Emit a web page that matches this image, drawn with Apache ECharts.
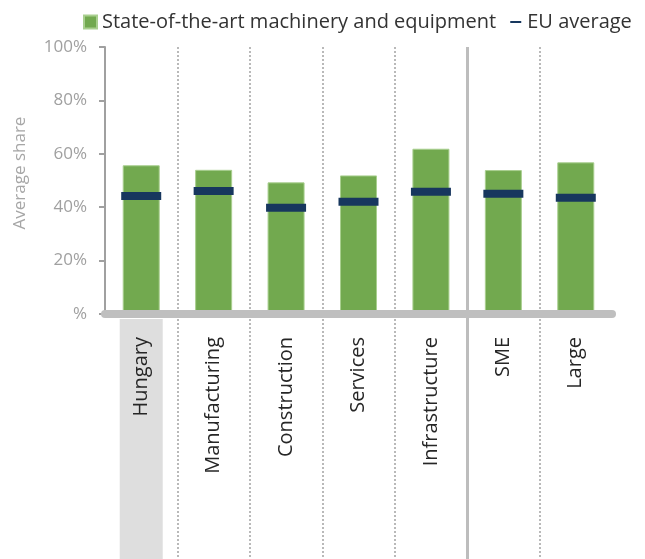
<!DOCTYPE html>
<html>
<head>
<meta charset="utf-8">
<script src="https://cdn.jsdelivr.net/npm/echarts@6/dist/echarts.min.js"></script>
<style>
  html, body { margin: 0; padding: 0; background: #fff; }
  #chart { width: 645px; height: 559px; }
</style>
</head>
<body>
<div id="chart"></div>
<script>
var categories = ['Hungary', 'Manufacturing', 'Construction', 'Services', 'Infrastructure', 'SME', 'Large'];
var machinery = [55.7, 54.0, 49.3, 51.9, 61.9, 53.9, 56.8];
var euAverage = [44.2, 46.1, 39.8, 42.0, 45.8, 45.0, 43.5];
var highlight = [1, '-', '-', '-', '-', '-', '-'];

var dot = '#b9b9b9';
var chart = echarts.init(document.getElementById('chart'));

var option = {
    animation: false,
    textStyle: { fontFamily: 'Open Sans' },
    legend: {
        left: 78,
        top: 7,
        itemWidth: 13,
        itemHeight: 13,
        itemGap: 13,
        textStyle: { fontSize: 20, color: '#333' },
        data: [
            { name: 'State-of-the-art machinery and equipment', icon: 'rect' },
            { name: 'EU average', icon: 'path://M0,0M13,13M1,5.5h11v2h-11z' }
        ]
    },
    grid: [
        { left: 105, right: 33, top: 47, bottom: 245 },
        { left: 105, right: 33, top: 47, bottom: 0 },
        { left: 105, right: 33, top: 319, bottom: 0 }
    ],
    xAxis: [
        {
            type: 'category',
            gridIndex: 0,
            data: categories,
            z: 3,
            axisLine: { lineStyle: { color: '#bfbfbf', width: 8 } },
            axisTick: { show: false },
            axisLabel: { rotate: 90, interval: 0, margin: 23, fontSize: 20, color: '#262626' },
            splitLine: { show: false }
        },
        {
            // dotted separators
            type: 'category',
            gridIndex: 1,
            data: categories,
            axisLine: { show: false },
            axisTick: { show: false, interval: 0 },
            axisLabel: { show: false, interval: 0 },
            splitLine: {
                show: true,
                interval: 0,
                lineStyle: {
                    color: ['transparent', dot, dot, dot, dot, 'transparent', dot, 'transparent'],
                    width: 2,
                    type: 'dotted'
                }
            }
        },
        {
            // solid separator between sectors and firm size
            type: 'category',
            gridIndex: 1,
            data: categories,
            axisLine: { show: false },
            axisTick: { show: false, interval: 0 },
            axisLabel: { show: false, interval: 0 },
            splitLine: {
                show: true,
                interval: 0,
                lineStyle: {
                    color: ['transparent', 'transparent', 'transparent', 'transparent', 'transparent', '#bdbdbd', 'transparent', 'transparent'],
                    width: 3
                }
            }
        },
        {
            type: 'category',
            gridIndex: 2,
            data: categories,
            show: false
        }
    ],
    yAxis: [
        {
            type: 'value',
            gridIndex: 0,
            min: 0,
            max: 100,
            interval: 20,
            name: 'Average share',
            nameLocation: 'middle',
            nameGap: 76,
            nameTextStyle: { fontSize: 17, color: '#a6a6a6', padding: [0, 0, 0, 15] },
            axisLine: { show: true, lineStyle: { color: '#a0a0a0', width: 2 } },
            axisTick: { show: true, length: 6, lineStyle: { color: '#a0a0a0', width: 2 } },
            axisLabel: {
                fontSize: 17,
                color: '#a0a0a0',
                margin: 18,
                formatter: function (v) { return v === 0 ? '%' : v + '%'; }
            },
            splitLine: { show: false }
        },
        { type: 'value', gridIndex: 1, min: 0, max: 1, show: false },
        { type: 'value', gridIndex: 2, min: 0, max: 1, show: false }
    ],
    series: [
        {
            name: 'Hungary highlight',
            type: 'bar',
            xAxisIndex: 3,
            yAxisIndex: 2,
            barWidth: 43,
            silent: true,
            itemStyle: { color: '#dedede' },
            data: highlight
        },
        {
            name: 'State-of-the-art machinery and equipment',
            type: 'bar',
            xAxisIndex: 0,
            yAxisIndex: 0,
            barWidth: 37,
            itemStyle: { color: '#72a94f', borderColor: '#a9cf8f', borderWidth: 1 },
            data: machinery
        },
        {
            name: 'EU average',
            type: 'scatter',
            xAxisIndex: 0,
            yAxisIndex: 0,
            symbol: 'rect',
            symbolSize: [40, 8],
            z: 5,
            itemStyle: { color: '#17375e', opacity: 1 },
            data: euAverage
        }
    ]
};

chart.setOption(option);
window.onresize = chart.resize;
</script>
</body>
</html>
